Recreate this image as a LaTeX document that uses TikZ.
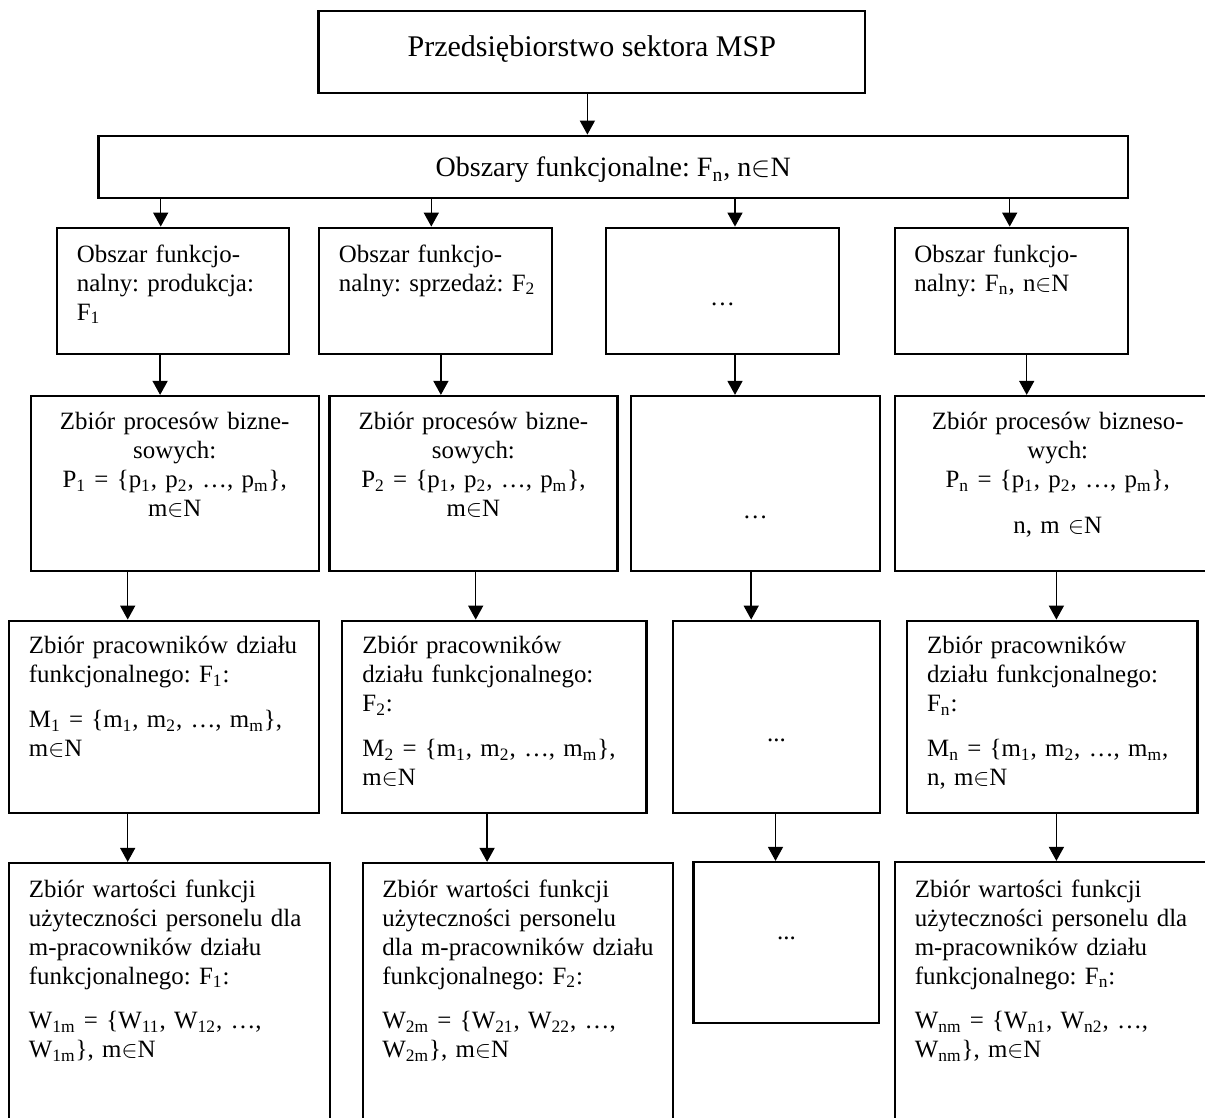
\documentclass[tikz,border=0pt]{standalone}
\usepackage{fontspec}
\setmainfont{Liberation Serif}
\usetikzlibrary{arrows.meta,fit}
\newcommand{\ssub}[1]{\textsubscript{#1}}
\frenchspacing
\tikzset{
  box/.style={draw, line width=1.1pt, inner sep=0pt, rectangle},
  arr/.style={line width=0.75pt, -{Triangle[length=7pt,width=7.5pt]}},
  txt/.style={inner sep=0pt, font=\fontsize{12.45}{14.5}\selectfont\frenchspacing, text width=150pt},
  lt/.style={txt, anchor=north west, align=left},
  ct/.style={txt, anchor=north, align=center},
  dots/.style={inner sep=0pt, anchor=base, font=\fontsize{12.45}{14.5}\selectfont},
}
\begin{document}
\begin{tikzpicture}[x=0.5pt,y=-0.5pt]
\useasboundingbox (0,0) rectangle (1205,1118);
\clip (0,0) rectangle (1205,1118);
% boxes
\node[box, fit={(318.4,10.7) (865.3,93.3)}] (top) {};
\node[box, fit={(98.4,135.7) (1128,197.7)}] (sec) {};
\node[box, fit={(56.6,227.7) (289.3,354.3)}] (A1) {};
\node[box, fit={(318.8,227.7) (551.8,354.3)}] (B1) {};
\node[box, fit={(605.8,227.7) (839.2,354.3)}] (C1) {};
\node[box, fit={(894.8,227.7) (1127.8,354.3)}] (D1) {};
\node[box, fit={(30.8,396) (318.7,571)}] (A2) {};
\node[box, fit={(329.4,396) (617.4,571)}] (B2) {};
\node[box, fit={(630.9,396) (879.7,571)}] (C2) {};
\node[box, fit={(895,396) (1222,571)}] (D2) {};
\node[box, fit={(8.7,620.7) (318.7,812.7)}] (A3) {};
\node[box, fit={(342,620.7) (646.5,812.7)}] (B3) {};
\node[box, fit={(673.3,620.7) (879.7,812.7)}] (C3) {};
\node[box, fit={(907,620.7) (1197.5,812.7)}] (D3) {};
\node[box, fit={(8.7,863) (330,1140)}] (A4) {};
\node[box, fit={(363.3,863) (673.3,1140)}] (B4) {};
\node[box, fit={(693.4,862) (879.3,1022.7)}] (C4) {};
\node[box, fit={(894.8,862) (1222,1140)}] (D4) {};
% texts
\node[inner sep=0pt, anchor=base, font=\fontsize{15}{17}\selectfont] (ttop) at (591.8,57) {Przedsiębiorstwo sektora MSP};
\node[inner sep=0pt, anchor=base, font=\fontsize{14}{16}\selectfont] (tsec) at (613.2,177) {Obszary funkcjonalne: F\ssub{n}, n$\in$N};
\node[lt] (tA1) at (76.5,241.7) {\strut Obszar funkcjo-\\nalny: produkcja:\\F\ssub{1}};
\node[lt] (tB1) at (338.5,241.7) {\strut Obszar funkcjo-\\nalny: sprzedaż: F\ssub{2}};
\node[dots] (tC1) at (722.5,306) {…};
\node[lt] (tD1) at (914,241.7) {\strut Obszar funkcjo-\\nalny: F\ssub{n}, n$\in$N};
\node[ct] (tA2) at (174.7,408.7) {\strut Zbiór procesów bizne-\\sowych:\\P\ssub{1} = \{p\ssub{1}, p\ssub{2}, …, p\ssub{m}\},\\m$\in$N};
\node[ct] (tB2) at (473.4,408.7) {\strut Zbiór procesów bizne-\\sowych:\\P\ssub{2} = \{p\ssub{1}, p\ssub{2}, …, p\ssub{m}\},\\m$\in$N};
\node[dots] (tC2) at (755.3,518) {…};
\node[ct] (tD2) at (1057.7,408.7) {\strut Zbiór procesów bizneso-\\wych:\\P\ssub{n} = \{p\ssub{1}, p\ssub{2}, …, p\ssub{m}\},\\[8.5pt]n, m $\in$N};
\node[lt] (tA3) at (28.5,633.2) {\strut Zbiór pracowników działu\\funkcjonalnego: F\ssub{1}:\\[7.75pt]M\ssub{1} = \{m\ssub{1}, m\ssub{2}, …, m\ssub{m}\},\\m$\in$N};
\node[lt] (tB3) at (362,633.2) {\strut Zbiór pracowników\\działu funkcjonalnego:\\F\ssub{2}:\\[7.75pt]M\ssub{2} = \{m\ssub{1}, m\ssub{2}, …, m\ssub{m}\},\\m$\in$N};
\node[dots] (tC3) at (776.5,741) {...};
\node[lt] (tD3) at (926.7,633.2) {\strut Zbiór pracowników\\działu funkcjonalnego:\\F\ssub{n}:\\[7.75pt]M\ssub{n} = \{m\ssub{1}, m\ssub{2}, …, m\ssub{m},\\n, m$\in$N};
\node[lt] (tA4) at (28.5,876.4) {\strut Zbiór wartości funkcji\\użyteczności personelu dla\\m-pracowników działu\\funkcjonalnego: F\ssub{1}:\\[7.75pt]W\ssub{1m} = \{W\ssub{11}, W\ssub{12}, …,\\W\ssub{1m}\}, m$\in$N};
\node[lt] (tB4) at (382,876.4) {\strut Zbiór wartości funkcji\\użyteczności personelu\\dla m-pracowników działu\\funkcjonalnego: F\ssub{2}:\\[7.75pt]W\ssub{2m} = \{W\ssub{21}, W\ssub{22}, …,\\W\ssub{2m}\}, m$\in$N};
\node[dots] (tC4) at (786.4,939) {...};
\node[lt] (tD4) at (914.4,876.4) {\strut Zbiór wartości funkcji\\użyteczności personelu dla\\m-pracowników działu\\funkcjonalnego: F\ssub{n}:\\[7.75pt]W\ssub{nm} = \{W\ssub{n1}, W\ssub{n2}, …,\\W\ssub{nm}\}, m$\in$N};
% arrows
\draw[arr] (top.south -| 587.4,0) -- (sec.north -| 587.4,0);
\draw[arr] (sec.south -| 160.7,0) -- (A1.north -| 160.7,0);
\draw[arr] (sec.south -| 431.3,0) -- (B1.north -| 431.3,0);
\draw[arr] (sec.south -| 735,0) -- (C1.north -| 735,0);
\draw[arr] (sec.south -| 1009.7,0) -- (D1.north -| 1009.7,0);
\draw[arr] (A1.south -| 160.1,0) -- (A2.north -| 160.1,0);
\draw[arr] (B1.south -| 440.9,0) -- (B2.north -| 440.9,0);
\draw[arr] (C1.south -| 735,0) -- (C2.north -| 735,0);
\draw[arr] (D1.south -| 1026.7,0) -- (D2.north -| 1026.7,0);
\draw[arr] (A2.south -| 127.7,0) -- (A3.north -| 127.7,0);
\draw[arr] (B2.south -| 475.7,0) -- (B3.north -| 475.7,0);
\draw[arr] (C2.south -| 751.2,0) -- (C3.north -| 751.2,0);
\draw[arr] (D2.south -| 1056.4,0) -- (D3.north -| 1056.4,0);
\draw[arr] (A3.south -| 127.7,0) -- (A4.north -| 127.7,0);
\draw[arr] (B3.south -| 487.1,0) -- (B4.north -| 487.1,0);
\draw[arr] (C3.south -| 775.5,0) -- (C4.north -| 775.5,0);
\draw[arr] (D3.south -| 1056.4,0) -- (D4.north -| 1056.4,0);
\end{tikzpicture}
\end{document}
